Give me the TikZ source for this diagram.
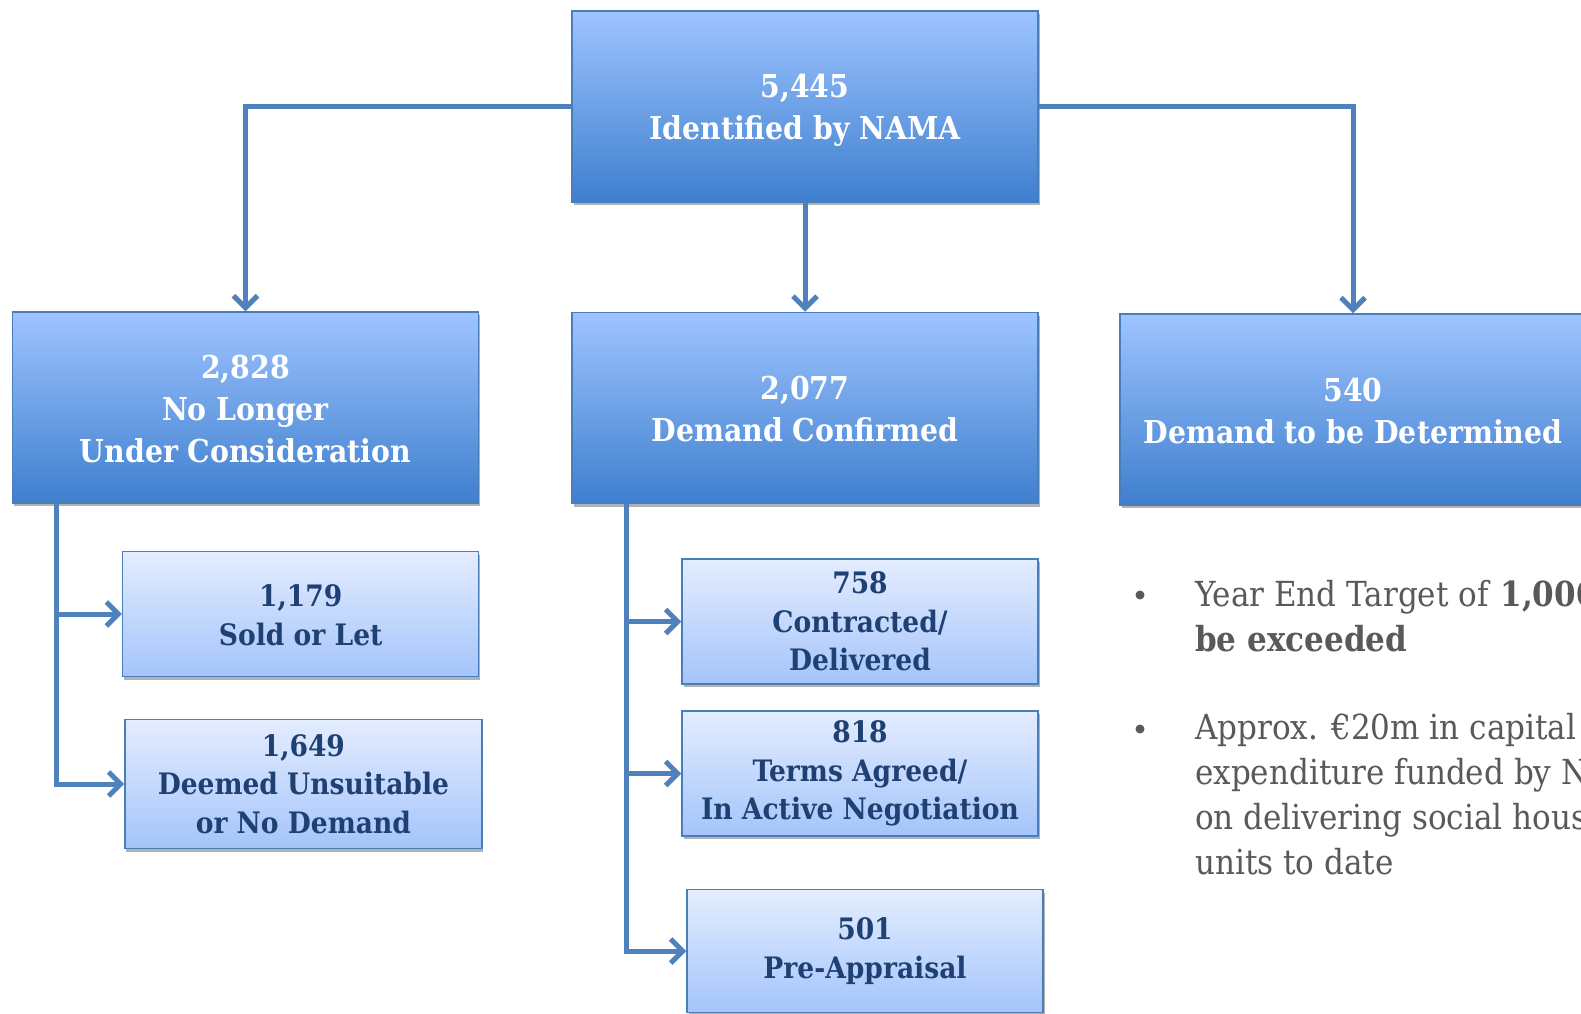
\documentclass[tikz,border=0pt]{standalone}
\usepackage{fontspec}
\usetikzlibrary{arrows.meta,shadows}
\newfontfamily\boxfont{DejaVu Serif Condensed}
\definecolor{bordc}{RGB}{74,126,187}
\definecolor{conc}{RGB}{79,129,189}
\definecolor{bigtop}{RGB}{158,196,255}
\definecolor{bigbot}{RGB}{62,127,206}
\definecolor{smtop}{RGB}{228,237,255}
\definecolor{smbot}{RGB}{164,196,250}
\definecolor{smtext}{RGB}{30,64,114}
\definecolor{bultext}{RGB}{89,89,89}
\newcommand{\upstrut}[1]{\rule{0pt}{#1}}
\tikzset{
  basebox/.style={draw=bordc, line width=1.5pt, align=center, inner sep=0pt,
    drop shadow={shadow xshift=1.5pt, shadow yshift=-3pt, opacity=0.3, fill=black}},
  bigbox/.style={basebox, top color=bigtop, bottom color=bigbot, text=white,
    minimum width=466pt, minimum height=191pt,
    font=\boxfont\bfseries\fontsize{31.5}{42}\selectfont},
  smbox/.style={basebox, top color=smtop, bottom color=smbot, text=smtext,
    minimum width=356pt, minimum height=125pt,
    font=\boxfont\bfseries\fontsize{29.5}{38.5}\selectfont},
  conn/.style={draw=conc, line width=5pt, -{Straight Barb[length=12pt,width=24pt]}},
  bultxt/.style={anchor=north west, inner sep=0pt, align=left, text=bultext,
    font=\boxfont\fontsize{34.5}{45}\selectfont},
  bulpt/.style={circle, fill=bultext, minimum size=9pt, inner sep=0pt}
}
\begin{document}
\begin{tikzpicture}[x=1pt,y=-1pt]
\useasboundingbox (0,0) rectangle (1581,1013);
\clip (0,0) rectangle (1581,1013);
\fill[white] (0,0) rectangle (1581,1013);
\node[bigbox] (top) at (805,106.5) {\upstrut{31pt}5,445\\Identified by NAMA};
\node[bigbox] (L) at (245.5,407.5) {\upstrut{27pt}2,828\\No Longer\\Under Consideration};
\node[bigbox] (M) at (805,408) {\upstrut{26pt}2,077\\Demand Confirmed};
\node[bigbox] (R) at (1353,409.5) {\upstrut{27pt}540\\Demand to be Determined};
\node[smbox] (sold) at (300.7,614) {\upstrut{24pt}1,179\\Sold or Let};
\node[smbox, minimum width=357pt, minimum height=129pt] (deemed) at (303.4,784) {1,649\\Deemed Unsuitable\\or No Demand};
\node[smbox] (c1) at (860,621.5) {758\\Contracted/\\Delivered};
\node[smbox] (c2) at (860,773.5) {818\\Terms Agreed/\\In Active Negotiation};
\node[smbox, minimum height=123pt] (c3) at (865,951) {501\\Pre-Appraisal};
\draw[conn] (top.west) -| (L.north);
\draw[conn] (top.south) -- (M.north);
\draw[conn] (top.east) -| (R.north);
\coordinate (lt) at ([xshift=45pt]L.south west);
\coordinate (mt) at ([xshift=55pt]M.south west);
\draw[conn] (lt) |- (sold.west);
\draw[conn] (lt) |- (deemed.west);
\draw[conn] (mt) |- (c1.west);
\draw[conn] (mt) |- (c2.west);
\draw[conn] (mt) |- (c3.west);
\node[bulpt] (b1) at (1140,595) {};
\node[bulpt] (b2) at (1140,729) {};
\node[bultxt] (t1) at (1195,580) {Year End Target of \textbf{1,000}\\\textbf{be exceeded}};
\node[bultxt] (t2) at (1195,713) {Approx. €20m in capital\\expenditure funded by NAMA\\on delivering social housing\\units to date};
\end{tikzpicture}
\end{document}
